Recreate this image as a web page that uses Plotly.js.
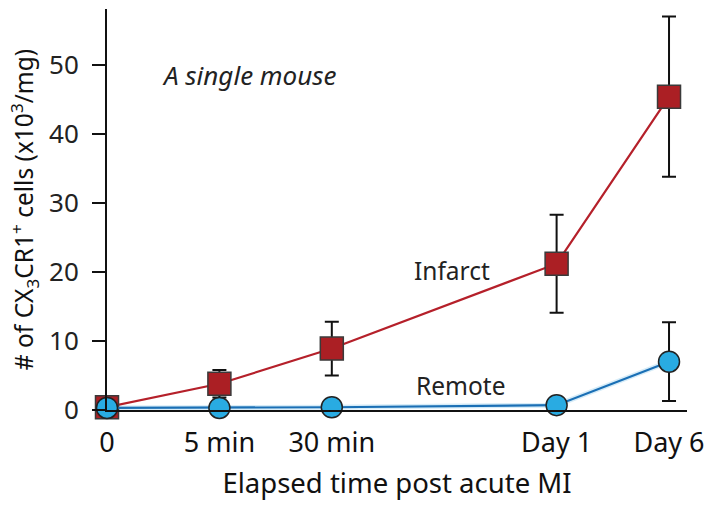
<!DOCTYPE html>
<html>
<head>
<meta charset="utf-8">
<script src="https://cdn.plot.ly/plotly-3.0.1.min.js"></script>
<style>html,body{margin:0;padding:0;background:#fff;}#chart{width:710px;height:508px;}</style>
</head>
<body>
<div id="chart"></div>
<script>
// Time points (blank entry keeps the wider gap between 30 min and Day 1)
const categories = ["0", "5 min", "30 min", "gap", "Day 1", "Day 6"];
const timePoints = ["0", "5 min", "30 min", "Day 1", "Day 6"];
const infarct = [0.4, 3.8, 8.9, 21.2, 45.4];
const infarctErr = [0, 2.0, 3.9, 7.1, 11.6];
const remote = [0.3, 0.3, 0.4, 0.7, 7.0];
const remoteErr = [0, 0, 0, 0, 5.7];

const font = "Noto Sans, Open Sans, sans-serif";

const traces = [
  {
    x: timePoints, y: remote, type: "scatter", mode: "lines",
    line: {color: "#d6ecf8", width: 5}, hoverinfo: "skip", showlegend: false, cliponaxis: false
  },
  {
    x: timePoints, y: infarct, type: "scatter", mode: "lines+markers", name: "Infarct",
    line: {color: "#b5202a", width: 2.2},
    marker: {symbol: "square", size: 23, color: "#ab1f24", line: {color: "#3a3a3a", width: 1.5}},
    error_y: {type: "data", array: infarctErr, visible: true, color: "#111", thickness: 2, width: 7},
    cliponaxis: false
  },
  {
    x: timePoints, y: remote, type: "scatter", mode: "lines+markers", name: "Remote",
    line: {color: "#1a6fb5", width: 2.2},
    marker: {symbol: "circle", size: 21, color: "#29abe2", line: {color: "#222", width: 1.5}},
    error_y: {type: "data", array: remoteErr, visible: true, color: "#111", thickness: 2, width: 7},
    cliponaxis: false
  }
];

const layout = {
  width: 710, height: 508,
  margin: {l: 107, r: 23, t: 9, b: 98},
  paper_bgcolor: "#fff", plot_bgcolor: "#fff",
  showlegend: false,
  font: {family: font, color: "#222"},
  xaxis: {
    type: "category", categoryorder: "array", categoryarray: categories,
    tickvals: timePoints, ticktext: timePoints,
    range: [0, 5.16], showgrid: false, zeroline: false,
    showline: true, linecolor: "#111", linewidth: 2,
    ticks: "", ticklabelstandoff: 8,
    tickfont: {size: 27, family: font, color: "#111"},
    title: {text: "Elapsed time post acute MI", font: {size: 27.5, family: font, color: "#111"}, standoff: 14}
  },
  yaxis: {
    range: [0, 58.1], tickvals: [0, 10, 20, 30, 40, 50],
    showgrid: false, zeroline: false,
    showline: true, linecolor: "#111", linewidth: 2,
    ticks: "outside", ticklen: 13, tickwidth: 2, tickcolor: "#111",
    ticklabelstandoff: 8,
    tickfont: {size: 26, family: font, color: "#222"},
    title: {text: "# of CX<sub>3</sub>CR1<sup>+</sup> cells (x10<sup>3</sup>/mg)", font: {size: 24.5, family: font, color: "#111"}, standoff: 8}
  },
  annotations: [
    {x: 0.091, y: 0.835, xref: "paper", yref: "paper", text: "<i>A single mouse</i>", showarrow: false,
     xanchor: "left", yanchor: "middle", font: {size: 26, family: font, color: "#222"}},
    {x: 0.595, y: 0.349, xref: "paper", yref: "paper", text: "Infarct", showarrow: false,
     xanchor: "center", yanchor: "middle", font: {size: 24.5, family: font, color: "#222"}},
    {x: 0.61, y: 0.06, xref: "paper", yref: "paper", text: "Remote", showarrow: false,
     xanchor: "center", yanchor: "middle", font: {size: 24.5, family: font, color: "#222"}}
  ]
};

Plotly.newPlot("chart", traces, layout, {displayModeBar: false, staticPlot: true});
</script>
</body>
</html>
